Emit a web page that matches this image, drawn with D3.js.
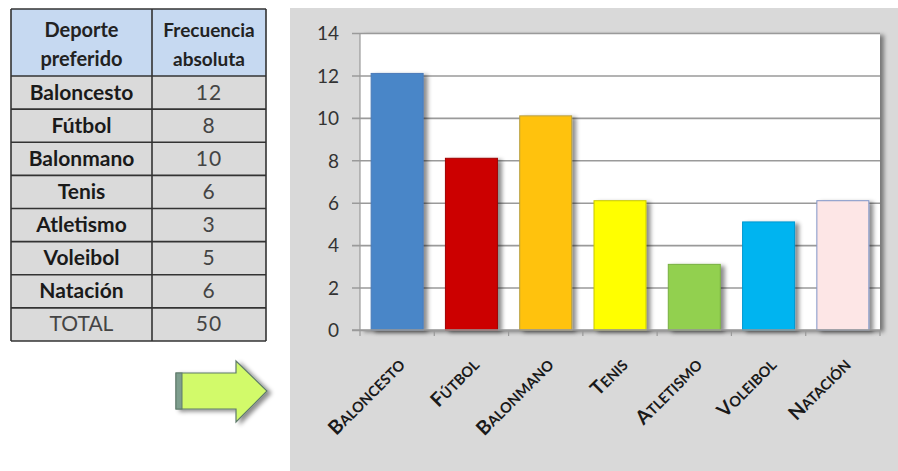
<!DOCTYPE html>
<html>
<head>
<meta charset="utf-8">
<script src="https://cdn.jsdelivr.net/npm/d3@7"></script>
<style>
  body { margin: 0; background: #fff; }
  svg { display: block; }
</style>
</head>
<body>
<script>
// Data
const sports = ['Baloncesto', 'Fútbol', 'Balonmano', 'Tenis', 'Atletismo', 'Voleibol', 'Natación'];
const frequencies = [12, 8, 10, 6, 3, 5, 6];
const yTicks = [0, 2, 4, 6, 8, 10, 12, 14];
const headers = [['Deporte', 'preferido'], ['Frecuencia', 'absoluta']];
const totalLabel = 'TOTAL';

// Styles
const barColors = ['#4a86c8', '#cc0000', '#ffc20e', '#ffff00', '#92d050', '#00b4f0', '#fde6e6'];
const barStrokes = ['#4a7ab8', '#a00000', '#b8a040', '#c8c800', '#78b040', '#0098d0', '#8096c8'];
const font = 'Lato, "Open Sans", sans-serif';

const width = 898;
const height = 471;

const svg = d3.select('body')
  .append('svg')
  .attr('width', width)
  .attr('height', height);

const defs = svg.append('defs');

const shadow = defs.append('filter')
  .attr('id', 'shadow')
  .attr('x', '-20%').attr('y', '-20%')
  .attr('width', '150%').attr('height', '150%');
shadow.append('feDropShadow')
  .attr('dx', 4).attr('dy', 2)
  .attr('stdDeviation', 2)
  .attr('flood-color', '#000')
  .attr('flood-opacity', 0.45);

// ---------- Table ----------
const tableLeft = 11, colSplit = 152, tableRight = 266;
const headerTop = 9, headerBottom = 76, tableBottom = 341;

const rows = sports.map((s, i) => ({ name: s, value: frequencies[i], bold: true }));
rows.push({ name: totalLabel, value: d3.sum(frequencies), bold: false });

const rowScale = d3.scaleBand()
  .domain(d3.range(rows.length))
  .range([headerBottom, tableBottom]);

const table = svg.append('g');

table.append('rect')
  .attr('x', tableLeft).attr('y', headerTop)
  .attr('width', tableRight - tableLeft).attr('height', headerBottom - headerTop)
  .attr('fill', '#c6d9f1');

table.append('rect')
  .attr('x', tableLeft).attr('y', headerBottom)
  .attr('width', tableRight - tableLeft).attr('height', tableBottom - headerBottom)
  .attr('fill', '#dadada');

const colCenters = [(tableLeft + colSplit) / 2, (colSplit + tableRight) / 2];

headers.forEach((lines, c) => {
  lines.forEach((line, k) => {
    table.append('text')
      .attr('x', colCenters[c])
      .attr('y', headerTop + 28 + k * 29)
      .attr('text-anchor', 'middle')
      .attr('font-family', font)
      .attr('font-weight', 'bold')
      .attr('font-size', c === 0 ? 20 : 19)
      .attr('fill', '#222')
      .text(line);
  });
});

const rowG = table.selectAll('g.row')
  .data(rows)
  .enter()
  .append('g')
  .attr('class', 'row');

rowG.append('text')
  .attr('x', colCenters[0])
  .attr('y', (d, i) => rowScale(i) + rowScale.bandwidth() / 2 + 7)
  .attr('text-anchor', 'middle')
  .attr('font-family', font)
  .attr('font-weight', d => d.bold ? 'bold' : 'normal')
  .attr('font-size', 21)
  .attr('fill', d => d.bold ? '#1a1a1a' : '#444')
  .text(d => d.name);

rowG.append('text')
  .attr('x', colCenters[1])
  .attr('y', (d, i) => rowScale(i) + rowScale.bandwidth() / 2 + 7)
  .attr('text-anchor', 'middle')
  .attr('font-family', font)
  .attr('font-size', 21)
  .attr('letter-spacing', 1)
  .attr('fill', '#444')
  .text(d => d.value);

// grid lines of the table
const hLines = [headerTop, headerBottom].concat(d3.range(1, rows.length + 1).map(i => rowScale(i) || tableBottom));
table.selectAll('line.h')
  .data(hLines)
  .enter()
  .append('line')
  .attr('x1', tableLeft).attr('x2', tableRight)
  .attr('y1', d => d).attr('y2', d => d)
  .attr('stroke', '#333').attr('stroke-width', 1.6);

table.selectAll('line.v')
  .data([tableLeft, colSplit, tableRight])
  .enter()
  .append('line')
  .attr('x1', d => d).attr('x2', d => d)
  .attr('y1', headerTop).attr('y2', tableBottom)
  .attr('stroke', '#333').attr('stroke-width', 1.6);

// ---------- Arrow ----------
const arrow = svg.append('g').attr('filter', 'url(#shadow)');
arrow.append('path')
  .attr('d', 'M176,373 L236,373 L236,361 L267,391 L236,422 L236,409 L176,409 Z')
  .attr('fill', '#d2fa6a')
  .attr('stroke', '#5e7a6a')
  .attr('stroke-width', 1.2);
arrow.append('rect')
  .attr('x', 176).attr('y', 373)
  .attr('width', 6).attr('height', 36)
  .attr('fill', '#7e9e8e')
  .attr('stroke', '#5e7a6a')
  .attr('stroke-width', 1);

// ---------- Chart ----------
svg.append('rect')
  .attr('x', 290).attr('y', 8)
  .attr('width', 608).attr('height', 463)
  .attr('fill', '#d9d9d9');

const plot = { left: 360, right: 880, top: 33, bottom: 330 };

const x = d3.scaleBand()
  .domain(sports)
  .range([plot.left, plot.right])
  .paddingInner(0.3)
  .paddingOuter(0.15);

const y = d3.scaleLinear()
  .domain([0, 14])
  .range([plot.bottom, plot.top]);

svg.append('rect')
  .attr('x', plot.left).attr('y', plot.top)
  .attr('width', plot.right - plot.left).attr('height', plot.bottom - plot.top)
  .attr('fill', '#fff')
  .attr('filter', 'url(#shadow)');

// y axis with gridlines
const yAxis = d3.axisLeft(y)
  .tickValues(yTicks)
  .tickSize(-(plot.right - plot.left))
  .tickPadding(21)
  .tickFormat(d => d);

const yG = svg.append('g')
  .attr('transform', `translate(${plot.left},0)`)
  .call(yAxis);
yG.select('.domain').remove();
yG.selectAll('.tick line')
  .attr('x1', -8)
  .attr('stroke', '#9a9a9a')
  .attr('stroke-width', 1.6);
yG.selectAll('.tick text')
  .attr('font-family', font)
  .attr('font-size', 19)
  .attr('fill', '#333')
  .attr('dy', '0.36em');

svg.append('line')
  .attr('x1', plot.left).attr('x2', plot.left)
  .attr('y1', plot.top).attr('y2', plot.bottom)
  .attr('stroke', '#9a9a9a').attr('stroke-width', 1.2);

// bars
svg.append('g')
  .selectAll('rect')
  .data(frequencies)
  .enter()
  .append('rect')
  .attr('x', (d, i) => x(sports[i]))
  .attr('y', d => y(d) - 2)
  .attr('width', x.bandwidth())
  .attr('height', d => y(0) - y(d) + 2)
  .attr('fill', (d, i) => barColors[i])
  .attr('stroke', (d, i) => barStrokes[i])
  .attr('stroke-width', 1)
  .attr('filter', 'url(#shadow)');

// x axis
const boundaries = d3.range(sports.length + 1).map(i => plot.left + i * (plot.right - plot.left) / sports.length);
svg.append('line')
  .attr('x1', plot.left - 8).attr('x2', plot.right)
  .attr('y1', plot.bottom).attr('y2', plot.bottom)
  .attr('stroke', '#9a9a9a').attr('stroke-width', 1.6);
svg.selectAll('line.xtick')
  .data(boundaries)
  .enter()
  .append('line')
  .attr('x1', d => d).attr('x2', d => d)
  .attr('y1', plot.bottom).attr('y2', plot.bottom + 6)
  .attr('stroke', '#9a9a9a').attr('stroke-width', 1.2);

// small caps labels, rotated
const labels = svg.append('g')
  .selectAll('text')
  .data(sports)
  .enter()
  .append('text')
  .attr('transform', d => `translate(${x(d) + x.bandwidth() / 2 + 9},${plot.bottom + 36}) rotate(-45)`)
  .attr('text-anchor', 'end')
  .attr('font-family', font)
  .attr('font-weight', 'bold')
  .attr('fill', '#1a1a1a');

labels.append('tspan')
  .attr('font-size', 19.5)
  .text(d => d.charAt(0).toUpperCase());
labels.append('tspan')
  .attr('font-size', 14.5)
  .text(d => d.slice(1).toUpperCase());
</script>
</body>
</html>
